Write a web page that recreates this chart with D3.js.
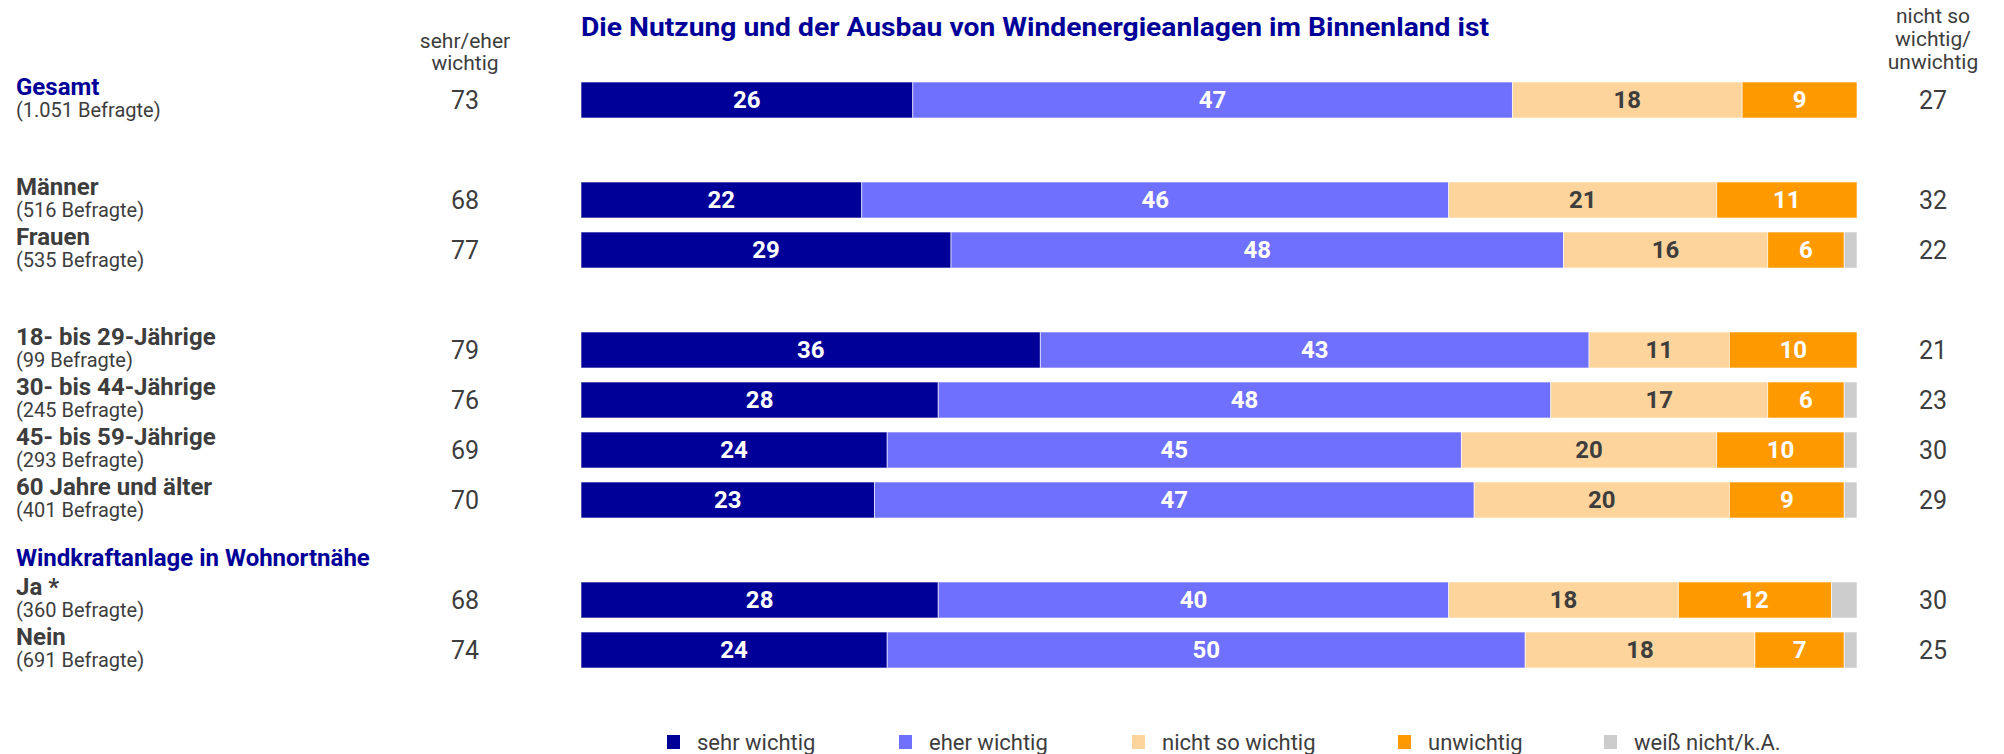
<html>
<head>
	<meta charset='utf-8' />
	<title>Windenergie im Binnenland</title>
	<script src="https://cdn.jsdelivr.net/npm/d3@7"></script>
	<style>
	body { margin: 0; background: #fff; }
	text { font-family: Roboto, "DejaVu Sans", sans-serif; }
	</style>
</head>
<body>
<script>

	// data
	var rowLabels = ["Gesamt", "Männer", "Frauen", "18- bis 29-Jährige", "30- bis 44-Jährige",
		"45- bis 59-Jährige", "60 Jahre und älter", "Ja *", "Nein"];
	var rowSub = ["(1.051 Befragte)", "(516 Befragte)", "(535 Befragte)", "(99 Befragte)", "(245 Befragte)",
		"(293 Befragte)", "(401 Befragte)", "(360 Befragte)", "(691 Befragte)"];
	var rowSlot = [0, 2, 3, 5, 6, 7, 8, 10, 11];
	var sehrWichtig = [26, 22, 29, 36, 28, 24, 23, 28, 24];
	var eherWichtig = [47, 46, 48, 43, 48, 45, 47, 40, 50];
	var nichtSoWichtig = [18, 21, 16, 11, 17, 20, 20, 18, 18];
	var unwichtig = [9, 11, 6, 10, 6, 10, 9, 12, 7];
	var weissNicht = [0, 0, 1, 0, 1, 1, 1, 2, 1];
	var sumWichtig = [73, 68, 77, 79, 76, 69, 70, 68, 74];
	var sumUnwichtig = [27, 32, 22, 21, 23, 30, 29, 30, 25];

	var seriesNames = ["sehr wichtig", "eher wichtig", "nicht so wichtig", "unwichtig", "weiß nicht/k.A."];
	var seriesColors = ["#000099", "#7070ff", "#fdd49b", "#ff9900", "#cccccc"];
	var labelColors = ["#fff", "#fff", "#3d3d3d", "#fff", null];

	var navy = "#000099", grey = "#3d3d3d";
	var width = 2004, height = 754;

	var table = rowLabels.map(function(d, i) {
		return {label: d, sub: rowSub[i], slot: rowSlot[i],
			s0: sehrWichtig[i], s1: eherWichtig[i], s2: nichtSoWichtig[i], s3: unwichtig[i], s4: weissNicht[i],
			top: sumWichtig[i], bottom: sumUnwichtig[i]};
	});
	var keys = ["s0", "s1", "s2", "s3", "s4"];
	var stacked = d3.stack().keys(keys)(table);

	var svg = d3.select("body").append("svg")
		.attr("width", width)
		.attr("height", height);

	var xScale = d3.scaleLinear().domain([0, 100]).range([581, 1857]);
	var yScale = d3.scaleLinear().domain([0, 11]).range([82, 632]);
	var barH = 36;

	// title
	svg.append("text")
		.attr("x", xScale(0))
		.attr("y", 36)
		.attr("fill", navy)
		.attr("font-weight", "bold")
		.attr("font-size", "25px")
		.attr("textLength", 908)
		.attr("lengthAdjust", "spacingAndGlyphs")
		.text("Die Nutzung und der Ausbau von Windenergieanlagen im Binnenland ist");

	// column headers
	var leftX = 465, rightX = 1933;
	svg.append("text").attr("x", leftX).attr("y", 48).attr("text-anchor", "middle")
		.attr("font-size", "21px").attr("fill", grey).text("sehr/eher");
	svg.append("text").attr("x", leftX).attr("y", 70).attr("text-anchor", "middle")
		.attr("font-size", "21px").attr("fill", grey).text("wichtig");
	["nicht so", "wichtig/", "unwichtig"].forEach(function(t, i) {
		svg.append("text").attr("x", rightX).attr("y", 23 + i * 23).attr("text-anchor", "middle")
			.attr("font-size", "21px").attr("fill", grey).text(t);
	});

	// bars
	var layer = svg.selectAll(".layer").data(stacked).enter().append("g")
		.attr("class", "layer")
		.attr("fill", (d, i) => seriesColors[i]);

	layer.selectAll("rect").data(d => d).enter().append("rect")
		.attr("x", d => xScale(d[0]))
		.attr("y", d => yScale(d.data.slot))
		.attr("width", d => xScale(d[1]) - xScale(d[0]))
		.attr("height", barH)
		.attr("stroke", "rgba(255,255,255,0.6)")
		.attr("stroke-width", 1);

	layer.each(function(s, i) {
		if (!labelColors[i]) return;
		d3.select(this).selectAll("text").data(s.filter(d => d[1] - d[0] > 0)).enter().append("text")
			.attr("x", d => (xScale(d[0]) + xScale(d[1])) / 2)
			.attr("y", d => yScale(d.data.slot) + barH / 2 + 8)
			.attr("text-anchor", "middle")
			.attr("font-weight", "bold")
			.attr("font-size", "24px")
			.attr("fill", labelColors[i])
			.text(d => d[1] - d[0]);
	});

	// row labels
	var rows = svg.selectAll(".row").data(table).enter().append("g").attr("class", "row");
	rows.append("text")
		.attr("x", 16)
		.attr("y", d => yScale(d.slot) + 13)
		.attr("font-weight", "bold")
		.attr("font-size", "24px")
		.attr("fill", (d, i) => i == 0 ? navy : grey)
		.text(d => d.label);
	rows.append("text")
		.attr("x", 16)
		.attr("y", d => yScale(d.slot) + 35)
		.attr("font-size", "20px")
		.attr("fill", grey)
		.text(d => d.sub);
	rows.append("text")
		.attr("x", leftX)
		.attr("y", d => yScale(d.slot) + barH / 2 + 9)
		.attr("text-anchor", "middle")
		.attr("font-size", "25px")
		.attr("fill", grey)
		.text(d => d.top);
	rows.append("text")
		.attr("x", rightX)
		.attr("y", d => yScale(d.slot) + barH / 2 + 9)
		.attr("text-anchor", "middle")
		.attr("font-size", "25px")
		.attr("fill", grey)
		.text(d => d.bottom);

	// group header
	svg.append("text")
		.attr("x", 16)
		.attr("y", yScale(9) + 34)
		.attr("font-weight", "bold")
		.attr("font-size", "24px")
		.attr("fill", navy)
		.text("Windkraftanlage in Wohnortnähe");

	// legend
	var legendX = [667, 899, 1132, 1398, 1604];
	var legend = svg.selectAll(".legend").data(seriesNames).enter().append("g")
		.attr("class", "legend")
		.attr("transform", (d, i) => `translate(${legendX[i]},735)`);
	legend.append("rect").attr("width", 13).attr("height", 14).attr("fill", (d, i) => seriesColors[i]);
	legend.append("text").attr("x", 30).attr("y", 15)
		.attr("font-size", "22px").attr("fill", grey).text(d => d);

</script>
</body>
</html>
